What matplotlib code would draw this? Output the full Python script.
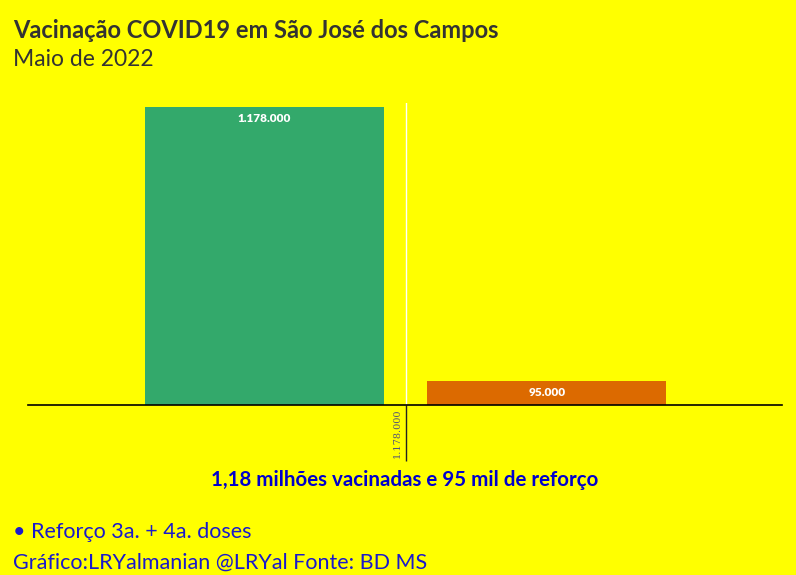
import matplotlib.pyplot as plt

categories = ['Vacinadas', 'Reforço']
values = [1178000, 95000]
labels = ['1.178.000', '95.000']
colors = ['#33a96b', '#dc6a00']

plt.rcParams['font.family'] = ['Lato', 'DejaVu Sans']

fig = plt.figure(figsize=(7.96, 5.75), dpi=100, facecolor='#ffff00')
# axes box in pixels: x 28..782, y 103..405
ax = fig.add_axes([28 / 796, 1 - 405 / 575, 754 / 796, 302 / 575])
ax.set_facecolor('#ffff00')

xpos = [0, 1]
ax.bar(xpos, values, width=0.846, color=colors)
ax.set_xlim(-0.837, 1.832)
ax.set_ylim(0, values[0] * 302 / 298)

for x, v, lab in zip(xpos, values, labels):
    ax.annotate(lab, (x, v), xytext=(0, -8), textcoords='offset points',
                ha='center', va='center', color='white', fontsize=8.5,
                fontweight='heavy')

# white grid line + tick below axis
ax.axvline(0.5, color='white', lw=1, zorder=0)
ax.set_xticks([0.5])
ax.set_xticklabels([''])
ax.tick_params(axis='x', length=40, width=1, color='#222222', direction='out')
ax.text(0.487, -0.01, labels[0], transform=ax.get_xaxis_transform(),
        rotation=90, ha='right', va='top', fontsize=7, family='DejaVu Serif',
        color='#555577')

ax.set_yticks([])
for s in ['top', 'right', 'left']:
    ax.spines[s].set_visible(False)
ax.spines['bottom'].set_color('black')
ax.spines['bottom'].set_linewidth(1.2)

fig.text(13 / 796, 1 - 30 / 575, 'Vacinação COVID19 em São José dos Campos',
         fontsize=17, fontweight='bold', color='#333333', va='center')
fig.text(13 / 796, 1 - 60 / 575, 'Maio de 2022', fontsize=16.5,
         fontweight='normal', color='#333333', va='center')
fig.text(405 / 796, 1 - 480 / 575, '1,18 milhões vacinadas e 95 mil de reforço',
         fontsize=14.8, fontweight='bold', color='#0000cc', ha='center', va='center')
fig.text(13 / 796, 1 - 532 / 575, '• Reforço 3a. + 4a. doses', fontsize=15.5,
         color='#1a1acc', va='center')
fig.text(13 / 796, 1 - 563 / 575, 'Gráfico:LRYalmanian @LRYal Fonte: BD MS',
         fontsize=15.5, color='#1a1acc', va='center')

fig.savefig('out.png', dpi=100, facecolor=fig.get_facecolor())
